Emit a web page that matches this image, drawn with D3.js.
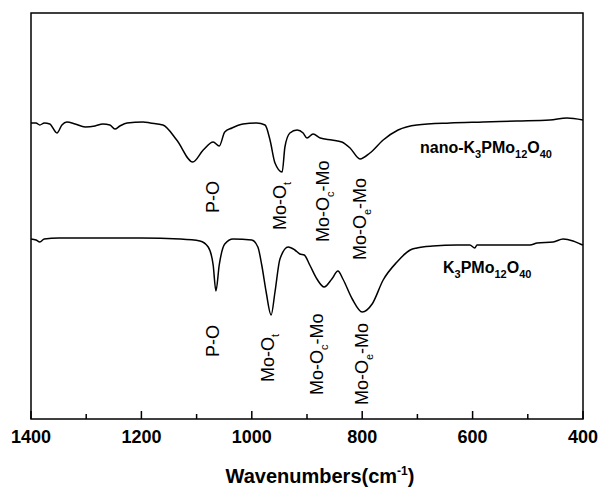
<!DOCTYPE html>
<html>
<head>
<meta charset="utf-8">
<script src="https://cdn.jsdelivr.net/npm/d3@7"></script>
<style>
  body { margin: 0; background: #fff; }
  svg { display: block; font-family: Arial, "Liberation Sans", sans-serif; }
</style>
</head>
<body>
<svg id="chart" width="600" height="488"></svg>
<script>
// wavenumber (cm-1) and transmittance (a.u.)
const nanoWave = [1400, 1391, 1384, 1376, 1366, 1353, 1344, 1335, 1320, 1302, 1284, 1270, 1257, 1248, 1239, 1226, 1197,
  1184, 1161, 1136, 1107, 1088, 1070, 1059, 1049, 1036, 1016, 991, 976, 967, 958, 945, 940, 931, 918, 907, 900, 889, 876,
  855, 837, 822, 804, 786, 762, 735, 701, 641, 581, 520, 460, 429, 400];
const nanoT = [296, 296, 294, 296, 295, 286, 294, 297, 295, 292, 293, 295, 294, 290, 293, 296, 297,
  296, 294, 279, 257, 269, 277, 273, 287, 291, 295, 296, 294, 279, 256, 247, 272, 286, 289, 286, 281, 285, 281,
  279, 277, 271, 260, 266, 279, 289, 294, 296, 297, 298, 299, 301, 299];

const bulkWave = [1400, 1391, 1384, 1376, 1350, 1300, 1200, 1130, 1094, 1079, 1070, 1065, 1059, 1049, 1034, 1000,
  989, 982, 974, 965, 958, 949, 934, 922, 913, 905, 895, 882, 869, 855, 844, 835, 818, 800, 782, 762, 737, 713,
  701, 672, 628, 605, 596, 592, 550, 496, 483, 454, 436, 418, 405, 400];
const bulkT = [180, 179, 177, 180, 181, 181, 181, 180, 178, 172, 154, 128, 154, 175, 180, 179,
  172, 154, 127, 104, 127, 160, 172, 169, 165, 164, 154, 140, 132, 140, 148, 140, 120, 107, 115, 139, 157, 169,
  171, 173, 174, 174, 171, 174, 174, 174, 176, 177, 180, 178, 175, 174];

const xTicks = [1400, 1200, 1000, 800, 600, 400];
const xMinor = [1300, 1100, 900, 700, 500];

// band assignments: [wavenumber, main, subscript, tail]
const topBands = [[1070, 'P-O', '', ''], [949, 'Mo-O', 't', ''], [871, 'Mo-O', 'c', '-Mo'], [804, 'Mo-O', 'e', '-Mo']];
const bottomBands = [[1070, 'P-O', '', ''], [971, 'Mo-O', 't', ''], [882, 'Mo-O', 'c', '-Mo'], [800, 'Mo-O', 'e', '-Mo']];

const svg = d3.select('#chart');
const L = 31, R = 583, T = 13, B = 419;

const x = d3.scaleLinear().domain([1400, 400]).range([L, R]);
const y = d3.scaleLinear().domain([0, 406]).range([B, T]);

// frame
svg.append('rect')
  .attr('x', L).attr('y', T).attr('width', R - L).attr('height', B - T)
  .attr('fill', 'none').attr('stroke', '#000').attr('stroke-width', 1.5);

// ticks point inward
const ax = svg.append('g').attr('transform', `translate(0,${B})`);
ax.selectAll('line.maj').data(xTicks).join('line')
  .attr('x1', d => x(d)).attr('x2', d => x(d)).attr('y1', 0).attr('y2', -8)
  .attr('stroke', '#000').attr('stroke-width', 1.5);
ax.selectAll('line.min').data(xMinor).join('line')
  .attr('x1', d => x(d)).attr('x2', d => x(d)).attr('y1', 0).attr('y2', -5)
  .attr('stroke', '#000').attr('stroke-width', 1.5);
ax.selectAll('text').data(xTicks).join('text')
  .attr('x', d => x(d)).attr('y', 24)
  .attr('text-anchor', 'middle').attr('font-size', 18).attr('font-weight', 'bold')
  .text(d => d);

// axis title
const title = svg.append('text').attr('x', 320).attr('y', 483)
  .attr('text-anchor', 'middle').attr('font-size', 20).attr('font-weight', 'bold');
title.append('tspan').text('Wavenumbers(cm');
title.append('tspan').attr('font-size', 12).attr('dy', -8).text('-1');
title.append('tspan').attr('dy', 8).text(')');

// spectra
const line = d3.line().x(d => x(d[0])).y(d => y(d[1])).curve(d3.curveMonotoneX);
[[nanoWave, nanoT], [bulkWave, bulkT]].forEach(([w, t]) => {
  svg.append('path')
    .datum(d3.zip(w, t))
    .attr('d', line)
    .attr('fill', 'none').attr('stroke', '#000').attr('stroke-width', 1.5);
});

// band labels, rotated
function bands(list, starts) {
  list.forEach((b, i) => {
    const t = svg.append('text')
      .attr('transform', `translate(${x(b[0]) + 6},${starts[i]}) rotate(-90)`)
      .attr('font-size', 18);
    t.append('tspan').text(b[1]);
    if (b[2]) t.append('tspan').attr('font-size', 11).attr('dy', 5).text(b[2]);
    if (b[3]) t.append('tspan').attr('dy', -5).text(b[3]);
  });
}
bands(topBands, [213, 230, 242, 260]);
bands(bottomBands, [357, 382, 395, 405]);

// sample names
function formula(tx, ty, prefix) {
  const t = svg.append('text').attr('x', tx).attr('y', ty)
    .attr('font-size', 16).attr('font-weight', 'bold');
  const parts = [[prefix + 'K', ''], ['3', 's'], ['PMo', ''], ['12', 's'], ['O', ''], ['40', 's']];
  let down = false;
  parts.forEach(([s, k]) => {
    const sp = t.append('tspan').text(s);
    if (k === 's') { sp.attr('font-size', 11).attr('dy', 5); down = true; }
    else if (down) { sp.attr('dy', -5); down = false; }
  });
}
formula(420, 153, 'nano-');
formula(443, 273, '');
</script>
</body>
</html>
